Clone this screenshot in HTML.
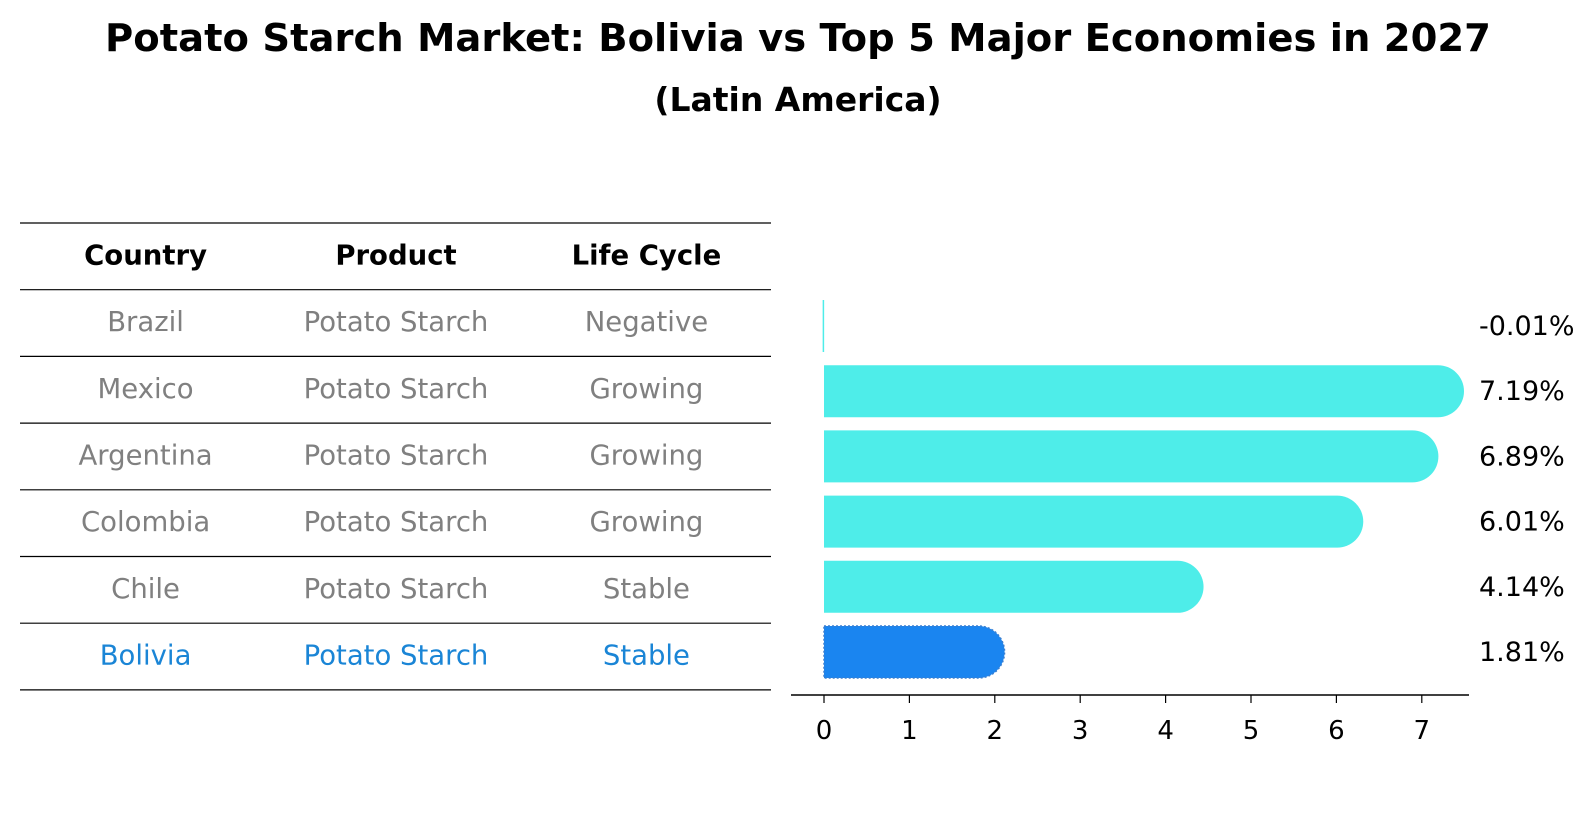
<!DOCTYPE html>
<html><head><meta charset="utf-8"><style>
body{margin:0;background:#fff;}
svg text{font-family:"DejaVu Sans","Liberation Sans",sans-serif;}
</style></head><body>
<svg id="c" width="1596" height="823" xmlns="http://www.w3.org/2000/svg">
<text x="798" y="51" text-anchor="middle" font-size="38.5" font-weight="bold">Potato Starch Market: Bolivia vs Top 5 Major Economies in 2027</text>
<text x="798" y="111" text-anchor="middle" font-size="33" font-weight="bold">(Latin America)</text>
<g id="table"></g>
<g id="bars"></g>
</svg>
<script>
const countries=["Brazil","Mexico","Argentina","Colombia","Chile","Bolivia"];
const products=["Potato Starch","Potato Starch","Potato Starch","Potato Starch","Potato Starch","Potato Starch"];
const cycles=["Negative","Growing","Growing","Growing","Stable","Stable"];
const values=[-0.01,7.19,6.89,6.01,4.14,1.81];
const valueLabels=["-0.01%","7.19%","6.89%","6.01%","4.14%","1.81%"];
const ticks=[0,1,2,3,4,5,6,7];

const NS="http://www.w3.org/2000/svg";
function mk(tag,attrs,parent,txt){const e=document.createElementNS(NS,tag);for(const k in attrs)e.setAttribute(k,attrs[k]);if(txt!==undefined)e.textContent=txt;parent.appendChild(e);return e;}
const tb=document.getElementById('table');
const rowTop=223,rowH=66.7,colX=[143*1.018,389*1.018,635*1.018];
for(let i=0;i<=countries.length+1;i++){
  const l=mk('line',{x1:20,x2:771,y1:rowTop+i*rowH,y2:rowTop+i*rowH,stroke:'#000','stroke-width':1.2},tb);
  
  
}
const heads=["Country","Product","Life Cycle"];
heads.forEach((h,j)=>{const t=mk('text',{x:colX[j],y:rowTop+rowH/2+8,'text-anchor':'middle','font-size':27.5,'font-weight':'bold'},tb,h);
  
  });
countries.forEach((c,i)=>{
  const col=c==="Bolivia"?'#1a85d6':'#808080';
  [c,products[i],cycles[i]].forEach((v,j)=>{
    const t=mk('text',{x:colX[j],y:rowTop+(i+1.5)*rowH+8,'text-anchor':'middle','font-size':27.5,fill:col},tb,v);
    
    
  });
});
const bg=document.getElementById('bars');
const x0=824,ppu=85.4;
const xs=v=>x0+v*ppu;
const barTop=326,barStep=65.2,barH=52;
values.forEach((v,i)=>{
  const cy=barTop+i*barStep;
  const col=countries[i]==="Bolivia"?'#1a85f0':'#4eede9';
  let el;
  if(v<=0){
    el=mk('rect',{x:xs(Math.min(v,0))-0.5,y:cy-barH/2,width:Math.max(1.5,Math.abs(v)*ppu),height:barH,fill:col},bg);
  }else{
    const xe=xs(v),r=barH/2;
    el=mk('path',{d:`M${x0},${cy-r} L${xe},${cy-r} A${r},${r} 0 0 1 ${xe},${cy+r} L${x0},${cy+r} Z`,fill:col},bg);
    if(countries[i]==="Bolivia"){el.setAttribute('stroke','#3a7fd0');el.setAttribute('stroke-dasharray','2,2');el.setAttribute('stroke-width','1.5');}
  }
  
  
  const t=mk('text',{x:1479,y:cy+9,'font-size':27},bg,valueLabels[i]);
  
  
});
const ax=mk('line',{x1:791,x2:1469,y1:695,y2:695,stroke:'#000','stroke-width':1.5},bg);


ticks.forEach(t=>{
  const l=mk('line',{x1:xs(t),x2:xs(t),y1:695,y2:703,stroke:'#000','stroke-width':1.2},bg);
  
  
  const tx=mk('text',{x:xs(t),y:739,'text-anchor':'middle','font-size':26},bg,String(t));
  
  
});
</script>
</body></html>
